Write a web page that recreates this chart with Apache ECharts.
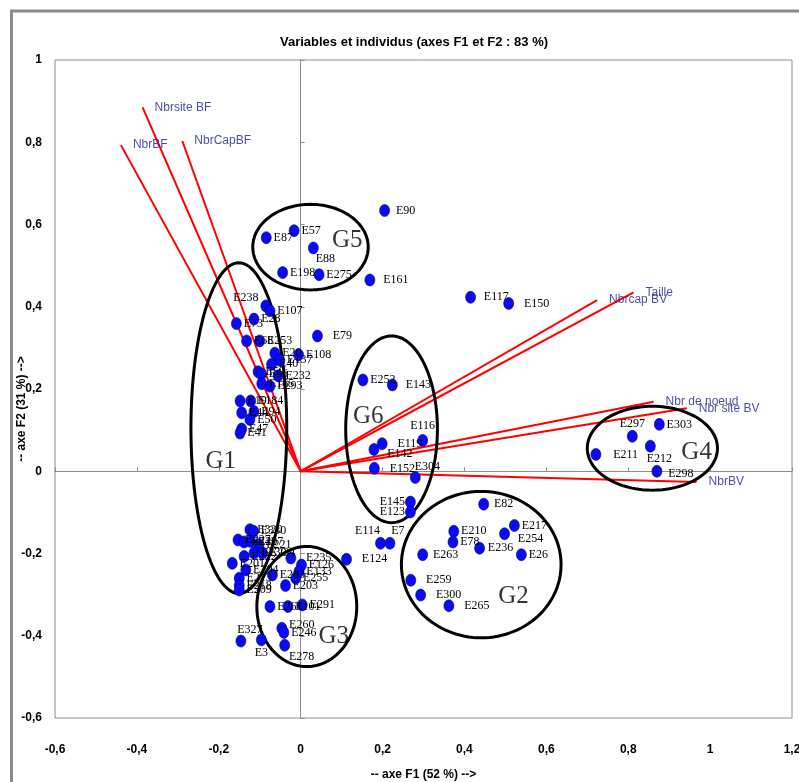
<!DOCTYPE html>
<html>
<head>
<meta charset="utf-8">
<script src="https://cdn.jsdelivr.net/npm/echarts@6/dist/echarts.min.js"></script>
<style>
  html, body { margin: 0; padding: 0; background: #fff; }
  #chart { width: 799px; height: 782px; }
</style>
</head>
<body>
<div id="chart"></div>
<script>
'use strict';

// individus (coordonnees F1 / F2)
var indivNames = [
  'E90', 'E57', 'E87', 'E88', 'E198', 'E275', 'E161', 'E117', 'E150', 'E79',
  'E238', 'E107', 'E28', 'E73', 'E68', 'E253', 'E20', 'E108', 'E137', 'E40',
  'E59', 'E46', 'E232', 'E165', 'E293', 'E19', 'E184', 'E44', 'E94', 'E50',
  'E47', 'E41',
  'E320', 'E330', 'E227', 'E242', 'E207', 'E221', 'E230', 'E222', 'E234', 'E201',
  'E204', 'E283', 'E213', 'E218', 'E209', 'E203', 'E235', 'E126', 'E133', 'E255',
  'E124', 'E261', 'E101', 'E291', 'E260', 'E246', 'E278', 'E3', 'E327',
  'E145', 'E123', 'E114', 'E7', 'E82', 'E210', 'E78', 'E236', 'E217', 'E254',
  'E26', 'E263', 'E259', 'E300', 'E265',
  'E252', 'E143', 'E116', 'E119', 'E142', 'E152', 'E304',
  'E297', 'E303', 'E212', 'E211', 'E298'
];
var indivF1 = [
  0.205, -0.016, -0.084, 0.031, -0.044, 0.045, 0.169, 0.415, 0.508, 0.041,
  -0.085, -0.075, -0.114, -0.157, -0.132, -0.100, -0.063, -0.005, -0.051, -0.071,
  -0.104, -0.096, -0.055, -0.095, -0.075, -0.148, -0.122, -0.144, -0.114, -0.124,
  -0.144, -0.148,
  -0.124, -0.115, -0.153, -0.138, -0.122, -0.102, -0.114, -0.138, -0.093, -0.167,
  -0.134, -0.069, -0.150, -0.150, -0.150, -0.037, -0.024, 0.002, -0.004, -0.012,
  0.112, -0.075, -0.031, 0.004, -0.046, -0.041, -0.039, -0.096, -0.146,
  0.268, 0.268, 0.195, 0.218, 0.447, 0.374, 0.372, 0.437, 0.522, 0.498,
  0.539, 0.298, 0.269, 0.293, 0.362,
  0.152, 0.224, 0.298, 0.199, 0.179, 0.180, 0.280,
  0.810, 0.876, 0.854, 0.721, 0.870
];
var indivF2 = [
  0.634, 0.585, 0.568, 0.543, 0.483, 0.478, 0.465, 0.423, 0.408, 0.329,
  0.402, 0.390, 0.370, 0.359, 0.317, 0.317, 0.287, 0.283, 0.270, 0.260,
  0.242, 0.236, 0.232, 0.213, 0.207, 0.171, 0.171, 0.142, 0.145, 0.126,
  0.103, 0.093,
  -0.142, -0.146, -0.167, -0.172, -0.171, -0.179, -0.199, -0.207, -0.199, -0.224,
  -0.240, -0.252, -0.260, -0.278, -0.289, -0.278, -0.211, -0.228, -0.244, -0.260,
  -0.214, -0.329, -0.329, -0.325, -0.382, -0.392, -0.423, -0.410, -0.413,
  -0.075, -0.099, -0.175, -0.175, -0.080, -0.146, -0.172, -0.187, -0.132, -0.152,
  -0.203, -0.203, -0.265, -0.301, -0.327,
  0.222, 0.210, 0.075, 0.067, 0.053, 0.007, -0.015,
  0.085, 0.114, 0.061, 0.041, 0.000
];

// variables (cercle des correlations)
var varNames = ['NbrBF', 'Nbrsite BF', 'NbrCapBF', 'Taille', 'Nbrcap BV', 'Nbr de noeud', 'Nbr site BV', 'NbrBV'];
var varF1 = [-0.439, -0.386, -0.289, 0.813, 0.724, 0.862, 0.943, 0.967];
var varF2 = [0.793, 0.885, 0.803, 0.435, 0.416, 0.169, 0.153, -0.026];

// groupes (ellipses)
var groupNames = ['G1', 'G2', 'G3', 'G4', 'G5', 'G6'];
var groupCX = [-0.151, 0.441, 0.015, 0.859, 0.024, 0.222];
var groupCY = [0.105, -0.227, -0.329, 0.056, 0.545, 0.102];
var groupRX = [0.117, 0.195, 0.122, 0.159, 0.141, 0.112];
var groupRY = [0.402, 0.178, 0.146, 0.102, 0.104, 0.227];
var groupLabelX = [-0.195, 0.520, 0.081, 0.967, 0.114, 0.165];
var groupLabelY = [0.024, -0.305, -0.402, 0.045, 0.561, 0.134];

// placement particulier de certaines etiquettes
var labelTweaks = {
  E238: { position: 'left', distance: 2, offset: [0, -8] },
  E88: { position: 'bottom', distance: 2, offset: [12, -3] },
  E297: { position: 'top', distance: 2, offset: [0, 2] },
  E212: { position: 'bottom', distance: 2, offset: [9, -2] },
  E211: { distance: 12 },
  E298: { distance: 6, offset: [0, 3] },
  E145: { position: 'left', distance: 0 },
  E123: { position: 'left', distance: 0 },
  E114: { position: 'top', distance: 2, offset: [-13, 2] },
  E7: { position: 'top', distance: 2, offset: [8, 2] },
  E124: { distance: 10 },
  E82: { distance: 5 },
  E236: { distance: 3 },
  E254: { distance: 8, offset: [0, 5] },
  E263: { distance: 5 },
  E259: { distance: 10 },
  E300: { distance: 10 },
  E265: { distance: 10 },
  E143: { distance: 8 },
  E116: { position: 'top', distance: 2 },
  E119: { distance: 10 },
  E142: { distance: 8, offset: [0, 4] },
  E152: { distance: 10 },
  E304: { position: 'top', distance: 2, offset: [12, 4] },
  E3: { position: 'bottom', distance: 1 },
  E327: { position: 'top', distance: 1, offset: [9, 2] },
  E260: { offset: [0, -4] },
  E278: { position: 'bottom', distance: 1, offset: [17, -2] },
  E90: { distance: 6 },
  E161: { distance: 8 },
  E117: { distance: 8 },
  E150: { distance: 10 },
  E79: { distance: 10 },
  E235: { distance: 10 }
};

function fmtTick(v) {
  var r = Math.round(v * 10) / 10;
  return String(r).replace('.', ',');
}

var indivData = indivNames.map(function(name, i) {
  var item = { name: name, value: [indivF1[i], indivF2[i]] };
  if (labelTweaks[name]) item.label = labelTweaks[name];
  return item;
});

var varEnds = varNames.map(function(name, i) {
  return { name: name, value: [varF1[i], varF2[i]] };
});

var narrow = 'Liberation Sans Narrow, Liberation Sans';

var chart = echarts.init(document.getElementById('chart'));

chart.setOption({
  backgroundColor: '#fff',
  animation: false,
  title: {
    text: 'Variables et individus (axes F1 et F2 : 83 %)',
    left: 409,
    top: 31,
    textAlign: 'center',
    textStyle: { fontFamily: narrow, fontSize: 13, fontWeight: 'bold', color: '#000' }
  },
  graphic: [{
    type: 'rect',
    shape: { x: 11.5, y: 11, width: 900, height: 900 },
    style: { fill: null, stroke: '#8a8a8a', lineWidth: 3 },
    silent: true
  }],
  grid: {
    left: 55, right: 7, top: 60, bottom: 64,
    outerBoundsMode: 'none',
    containLabel: false,
    show: true, borderColor: '#8c8c8c', borderWidth: 1, backgroundColor: '#fff'
  },
  xAxis: [{
    type: 'value', min: -0.6, max: 1.2, interval: 0.2,
    axisLine: { show: false, onZero: false },
    axisTick: { show: false },
    splitLine: { show: false },
    axisLabel: { margin: 26, formatter: fmtTick, fontFamily: narrow, fontSize: 12, fontWeight: 'bold', color: '#000' },
    name: '-- axe F1 (52 %) -->',
    nameLocation: 'middle',
    nameGap: 51,
    nameMoveOverlap: false,
    nameTextStyle: { fontFamily: narrow, fontSize: 12, fontWeight: 'bold', color: '#000' }
  }, {
    type: 'value', min: -0.6, max: 1.2, interval: 0.2,
    axisLine: { show: true, onZero: true, lineStyle: { color: '#8c8c8c', width: 1 } },
    axisTick: { show: true, inside: false, length: 4, lineStyle: { color: '#8c8c8c' } },
    axisLabel: { show: false },
    splitLine: { show: false }
  }],
  yAxis: [{
    type: 'value', min: -0.6, max: 1, interval: 0.2,
    axisLine: { show: false, onZero: false },
    axisTick: { show: false },
    splitLine: { show: false },
    axisLabel: { margin: 13, formatter: fmtTick, fontFamily: narrow, fontSize: 12, fontWeight: 'bold', color: '#000' },
    name: '-- axe F2 (31 %) -->',
    nameLocation: 'middle',
    nameGap: 27,
    nameMoveOverlap: false,
    nameTextStyle: { fontFamily: narrow, fontSize: 12, fontWeight: 'bold', color: '#000', padding: [0, 40, 0, 0] }
  }, {
    type: 'value', min: -0.6, max: 1, interval: 0.2,
    axisLine: { show: true, onZero: true, lineStyle: { color: '#8c8c8c', width: 1 } },
    axisTick: { show: true, inside: false, length: 4, lineStyle: { color: '#8c8c8c' } },
    axisLabel: { show: false },
    splitLine: { show: false }
  }],
  series: [{
    type: 'lines',
    coordinateSystem: 'cartesian2d',
    silent: true,
    z: 2,
    lineStyle: { color: '#ff0000', width: 2, opacity: 1, curveness: 0 },
    data: varNames.map(function(name, i) {
      return { coords: [[0, 0], [varF1[i], varF2[i]]] };
    })
  }, {
    type: 'scatter',
    silent: true,
    z: 6,
    symbolSize: 0,
    data: varEnds,
    label: {
      show: true,
      position: 'right',
      distance: 12,
      formatter: '{b}',
      fontFamily: narrow,
      fontSize: 12,
      color: '#22228c'
    }
  }, {
    type: 'custom',
    coordinateSystem: 'cartesian2d',
    silent: true,
    z: 3,
    data: groupNames.map(function(n, i) {
      return [groupCX[i], groupCY[i], groupRX[i], groupRY[i]];
    }),
    encode: { x: 0, y: 1 },
    renderItem: function(params, api) {
      var cx = api.value(0), cy = api.value(1), rx = api.value(2), ry = api.value(3);
      var pts = [];
      for (var k = 0; k < 120; k++) {
        var t = k / 120 * Math.PI * 2;
        pts.push(api.coord([cx + rx * Math.cos(t), cy + ry * Math.sin(t)]));
      }
      return {
        type: 'polygon',
        shape: { points: pts },
        style: { fill: 'transparent', stroke: '#000', lineWidth: 3 }
      };
    }
  }, {
    type: 'scatter',
    silent: true,
    z: 4,
    symbol: 'circle',
    symbolSize: [10, 12],
    itemStyle: { color: '#0a0af5', borderColor: '#00008b', borderWidth: 0.6, opacity: 1 },
    data: indivData,
    label: {
      show: true,
      position: 'right',
      distance: 2,
      formatter: '{b}',
      fontFamily: 'Liberation Serif',
      fontSize: 12,
      color: '#000'
    }
  }, {
    type: 'scatter',
    silent: true,
    z: 5,
    symbolSize: 0,
    data: groupNames.map(function(n, i) {
      return { name: n, value: [groupLabelX[i], groupLabelY[i]] };
    }),
    label: {
      show: true,
      position: 'inside',
      formatter: '{b}',
      fontFamily: 'Liberation Serif',
      fontSize: 25,
      color: '#000'
    }
  }]
});
</script>
</body>
</html>
